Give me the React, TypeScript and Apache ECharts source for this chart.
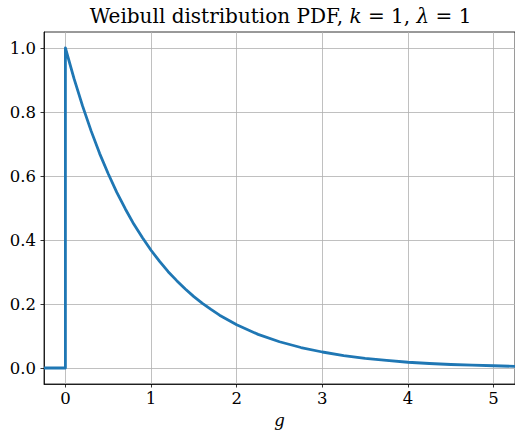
import React, { useEffect, useRef } from "react";
import * as echarts from "echarts";

const xs: number[] = [-0.25, 0, 0, 0.1, 0.2, 0.3, 0.4, 0.5, 0.6, 0.7, 0.8, 0.9, 1.0, 1.1, 1.2, 1.3, 1.4, 1.5, 1.6, 1.7, 1.8, 1.9, 2.0, 2.25, 2.5, 2.75, 3.0, 3.25, 3.5, 3.75, 4.0, 4.25, 4.5, 4.75, 5.0, 5.25];
const ys: number[] = [0, 0, 1.0, 0.905, 0.819, 0.741, 0.67, 0.607, 0.549, 0.497, 0.449, 0.407, 0.368, 0.333, 0.301, 0.273, 0.247, 0.223, 0.202, 0.183, 0.165, 0.15, 0.135, 0.105, 0.082, 0.064, 0.05, 0.039, 0.03, 0.024, 0.018, 0.014, 0.011, 0.009, 0.007, 0.005];
const xTicks: number[] = [0, 1, 2, 3, 4, 5];
const yTicks: number[] = [0, 0.2, 0.4, 0.6, 0.8, 1.0];

const FONT = "DejaVu Serif";
const TICK_FS = 16.5;

export default function App() {
  const ref = useRef<HTMLDivElement>(null);
  useEffect(() => {
    if (!ref.current) return;
    const chart = echarts.init(ref.current, null, { renderer: "svg" });
    chart.setOption({
      animation: false,
      backgroundColor: "#ffffff",
      title: {
        text: "{n|Weibull distribution PDF, }{i|k}{n| = 1, }{i|λ}{n| = 1}",
        left: 280.5,
        top: 6,
        padding: 0,
        textAlign: "center",
        textStyle: {
          fontWeight: "normal",
          fontFamily: FONT,
          fontSize: 20,
          rich: {
            n: { fontFamily: FONT, fontSize: 20, fontWeight: "normal", color: "#000" },
            i: { fontFamily: FONT, fontSize: 20, fontWeight: "normal", fontStyle: "italic", color: "#000" },
          },
        },
      },
      grid: {
        left: 44,
        top: 32,
        width: 473,
        height: 352,
        show: true,
        borderColor: "#000",
        borderWidth: 0.8,
        backgroundColor: "transparent",
      },
      xAxis: {
        type: "value",
        min: -0.25,
        max: 5.25,
        splitNumber: 5,
        name: "g",
        nameLocation: "middle",
        nameGap: 28,
        nameTextStyle: { fontFamily: FONT, fontSize: TICK_FS, fontStyle: "italic", color: "#000" },
        axisLine: { show: true, onZero: false, lineStyle: { color: "#000", width: 0.8 } },
        axisTick: { show: true, inside: false, length: 3.5, customValues: xTicks, lineStyle: { color: "#000", width: 0.8 } },
        axisLabel: {
          customValues: xTicks,
          margin: 6,
          fontFamily: FONT,
          fontSize: TICK_FS,
          color: "#000",
        },
        splitLine: { show: true, lineStyle: { color: "#b0b0b0", width: 0.8 } },
      },
      yAxis: {
        type: "value",
        min: -0.05,
        max: 1.05,
        splitNumber: 5,
        axisLine: { show: true, onZero: false, lineStyle: { color: "#000", width: 0.8 } },
        axisTick: { show: true, inside: false, length: 3.5, customValues: yTicks, lineStyle: { color: "#000", width: 0.8 } },
        axisLabel: {
          customValues: yTicks,
          margin: 8,
          fontFamily: FONT,
          fontSize: TICK_FS,
          color: "#000",
          formatter: (v: number) => v.toFixed(1),
        },
        splitLine: { show: true, lineStyle: { color: "#b0b0b0", width: 0.8 } },
      },
      series: [
        {
          type: "line",
          data: xs.map((x, i) => [x, ys[i]]),
          showSymbol: false,
          symbol: "none",
          lineStyle: { color: "#1f77b4", width: 2.8, join: "round" },
          z: 3,
        },
      ],
    });
    return () => chart.dispose();
  }, []);
  return (
    <div
      ref={ref}
      style={{ position: "absolute", left: 0, top: 0, width: 515, height: 435, background: "#fff" }}
    />
  );
}
